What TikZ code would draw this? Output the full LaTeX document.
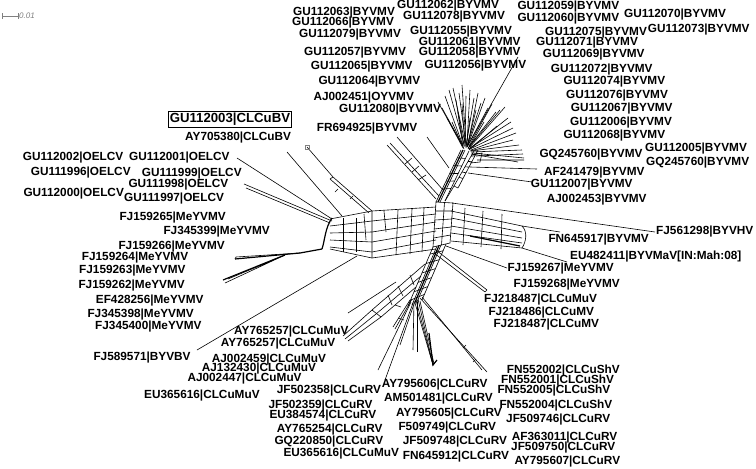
\documentclass[tikz,border=0pt]{standalone}
\usepackage{fontspec}
\setmainfont{Liberation Sans}
\usetikzlibrary{calc}
\begin{document}
\begin{tikzpicture}[x=1pt,y=-1pt,
  lab/.style={anchor=west,inner sep=0pt,font=\fontsize{11.8}{12}\selectfont\bfseries},
  net/.style={line width=0.6pt,black},
  thk/.style={line width=1.2pt,black}]
\useasboundingbox[fill=white] (0,0) rectangle (756,469);
% scale bar
\coordinate (sb1) at (2,16); \coordinate (sb2) at (18,16);
\draw[gray,line width=0.5pt] (sb1) -- (sb2) (2,13) -- (2,19) (18,13) -- (18,19);
\node[anchor=west,inner sep=0pt,text=gray,font=\fontsize{8}{9}\selectfont\itshape] (sbl) at (19,16) {0.01};
% ---------- labels ----------
\node[anchor=west,draw,line width=0.6pt,inner sep=1.5pt,font=\fontsize{13.2}{14}\selectfont\bfseries] (box) at (168,119.5) {GU112003|CLCuBV};
\node[lab] (t1) at (293,12.7) {GU112063|BYVMV};
\node[lab] (t2) at (397,6) {GU112062|BYVMV};
\node[lab] (t3) at (292,22.7) {GU112066|BYVMV};
\node[lab] (t4) at (403,16.7) {GU112078|BYVMV};
\node[lab] (t5) at (299,35) {GU112079|BYVMV};
\node[lab] (t6) at (410,31.7) {GU112055|BYVMV};
\node[lab] (t7) at (418.7,42.3) {GU112061|BYVMV};
\node[lab] (t8) at (304,52.3) {GU112057|BYVMV};
\node[lab] (t9) at (418.7,52.3) {GU112058|BYVMV};
\node[lab] (t10) at (310.7,66.7) {GU112065|BYVMV};
\node[lab] (t11) at (424.3,65.7) {GU112056|BYVMV};
\node[lab] (t12) at (318.3,81.7) {GU112064|BYVMV};
\node[lab] (t13) at (313.3,97.7) {AJ002451|OYVMV};
\node[lab] (t14) at (339,109.3) {GU112080|BYVMV};
\node[lab] (t15) at (316.7,128.3) {FR694925|BYVMV};
\node[lab] (r1) at (517.3,6.5) {GU112059|BYVMV};
\node[lab] (r2) at (517.3,18.3) {GU112060|BYVMV};
\node[lab] (r3) at (624,15) {GU112070|BYVMV};
\node[lab] (r4) at (647.7,29.3) {GU112073|BYVMV};
\node[lab] (r5) at (545,32.3) {GU112075|BYVMV};
\node[lab] (r6) at (536,42.7) {GU112071|BYVMV};
\node[lab] (r7) at (542.7,54.3) {GU112069|BYVMV};
\node[lab] (r8) at (550.7,69.3) {GU112072|BYVMV};
\node[lab] (r9) at (563.3,81.7) {GU112074|BYVMV};
\node[lab] (r10) at (566,96) {GU112076|BYVMV};
\node[lab] (r11) at (570.7,108.3) {GU112067|BYVMV};
\node[lab] (r12) at (570,122.7) {GU112006|BYVMV};
\node[lab] (r13) at (563.3,136) {GU112068|BYVMV};
\node[lab] (r14) at (645,149) {GU112005|BYVMV};
\node[lab] (r15) at (539.3,155) {GQ245760|BYVMV};
\node[lab] (r16) at (646,162.3) {GQ245760|BYVMV};
\node[lab] (r17) at (544,172.7) {AF241479|BYVMV};
\node[lab] (r18) at (530.7,185) {GU112007|BYVMV};
\node[lab] (r19) at (546.7,199.3) {AJ002453|BYVMV};
\node[lab] (r20) at (656,231.7) {FJ561298|BYVHV};
\node[lab] (r21) at (548.3,240) {FN645917|BYVMV};
\node[lab] (r22) at (570,256.7) {EU482411|BYVMaV[IN:Mah:08]};
\node[lab] (r23) at (507.3,269) {FJ159267|MeYVMV};
\node[lab] (r24) at (513.3,285) {FJ159268|MeYVMV};
\node[lab] (r25) at (484,299.3) {FJ218487|CLCuMuV};
\node[lab] (r26) at (488.3,312.7) {FJ218486|CLCuMV};
\node[lab] (r27) at (493.3,325) {FJ218487|CLCuMV};
\node[lab] (l1) at (185,138) {AY705380|CLCuBV};
\node[lab] (l2) at (22.7,157.3) {GU112002|OELCV};
\node[lab] (l3) at (129,157.3) {GU112001|OELCV};
\node[lab] (l4) at (30.7,172.3) {GU111996|OELCV};
\node[lab] (l5) at (141.7,173.7) {GU111999|OELCV};
\node[lab] (l6) at (128.3,185) {GU111998|OELCV};
\node[lab] (l7) at (23.3,193.3) {GU112000|OELCV};
\node[lab] (l8) at (124,198.3) {GU111997|OELCV};
\node[lab] (l9) at (119.3,217.7) {FJ159265|MeYVMV};
\node[lab] (l10) at (163.3,231.7) {FJ345399|MeYVMV};
\node[lab] (l11) at (118.3,246.7) {FJ159266|MeYVMV};
\node[lab] (l12) at (81.7,257.3) {FJ159264|MeYVMV};
\node[lab] (l13) at (79,270.7) {FJ159263|MeYVMV};
\node[lab] (l14) at (78.3,285.7) {FJ159262|MeYVMV};
\node[lab] (l15) at (95.7,300.7) {EF428256|MeYVMV};
\node[lab] (l16) at (87.3,315) {FJ345398|MeYVMV};
\node[lab] (l17) at (95,326.7) {FJ345400|MeYVMV};
\node[lab] (l18) at (93.3,357.3) {FJ589571|BYVBV};
\node[lab] (l19) at (144,396) {EU365616|CLCuMuV};
\node[lab] (b1) at (234,331.7) {AY765257|CLCuMuV};
\node[lab] (b2) at (220.7,344) {AY765257|CLCuMuV};
\node[lab] (b3) at (211.7,360) {AJ002459|CLCuMuV};
\node[lab] (b4) at (201.7,369) {AJ132430|CLCuMuV};
\node[lab] (b5) at (187.3,379) {AJ002447|CLCuMuV};
\node[lab] (b6) at (276.7,390.7) {JF502358|CLCuRV};
\node[lab] (b7) at (268.3,406) {JF502359|CLCuRV};
\node[lab] (b8) at (269.3,415.7) {EU384574|CLCuRV};
\node[lab] (b9) at (276.7,429.3) {AY765254|CLCuRV};
\node[lab] (b10) at (274.3,441.7) {GQ220850|CLCuRV};
\node[lab] (b11) at (283.3,453.3) {EU365616|CLCuMuV};
\node[lab] (b12) at (381.7,384.3) {AY795606|CLCuRV};
\node[lab] (b13) at (384,398.3) {AM501481|CLCuRV};
\node[lab] (b14) at (396,414) {AY795605|CLCuRV};
\node[lab] (b15) at (398.3,427.7) {F509749|CLCuRV};
\node[lab] (b16) at (402.7,441.7) {JF509748|CLCuRV};
\node[lab] (b17) at (402.7,456.7) {FN645912|CLCuRV};
\node[lab] (b18) at (506.7,370.7) {FN552002|CLCuShV};
\node[lab] (b19) at (501,381) {FN552001|CLCuShV};
\node[lab] (b20) at (497.3,391) {FN552005|CLCuShV};
\node[lab] (b21) at (499.3,406) {FN552004|CLCuShV};
\node[lab] (b22) at (506,420) {JF509746|CLCuRV};
\node[lab] (b23) at (511.7,437.3) {AF363011|CLCuRV};
\node[lab] (b24) at (511,447.7) {JF509750|CLCuRV};
\node[lab] (b25) at (514.3,461.7) {AY795607|CLCuRV};
% ---------- network: spine ----------
\coordinate (ua1) at (461,150); \coordinate (ub1) at (436,202);
\coordinate (ua2) at (465,150); \coordinate (ub2) at (440,202);
\coordinate (ua3) at (469,151); \coordinate (ub3) at (445,201);
\coordinate (ua4) at (474,151); \coordinate (ub4) at (454,186);
\coordinate (ua5) at (478,150); \coordinate (ub5) at (458,188);
\draw[net] (ua1)--(ub1) (ua2)--(ub2) (ua3)--(ub3) (ua4)--(ub4) (ua5)--(ub5) (ub4)--(ub5);
\draw[thk] ($(ua1)!0.5!(ua2)$) -- ($(ub1)!0.5!(ub2)$);
\foreach \t in {0.15,0.3,0.45,0.6,0.75}{
  \draw[net] ($(ua1)!\t!(ub1)$) -- ($(ua3)!\t!(ub3)$);
  \draw[net] ($(ua4)!\t!(ub4)$) -- ($(ua5)!\t!(ub5)$);}
\draw[net] (ub3) -- (ub4);
% central box
\coordinate (q1) at (436,202); \coordinate (q2) at (453,203);
\coordinate (q3) at (450,243); \coordinate (q4) at (433,247);
\draw[net] (q1)--(q2)--(q3)--(q4)--cycle;
\foreach \t in {0.2,0.4,0.6,0.8}{\draw[net] ($(q1)!\t!(q4)$) -- ($(q2)!\t!(q3)$);}
\draw[net] ($(q1)!0.5!(q2)$) -- ($(q4)!0.5!(q3)$);
% lower spine
\coordinate (la1) at (433,247); \coordinate (lb1) at (408,306);
\coordinate (la2) at (437,246); \coordinate (lb2) at (412,305);
\coordinate (la3) at (441,245); \coordinate (lb3) at (417,302);
\coordinate (la4) at (446,244); \coordinate (lb4) at (422,300);
\draw[net] (la1)--(lb1) (la2)--(lb2) (la3)--(lb3) (la4)--(lb4);
\draw[thk] ($(la2)!0.5!(la3)$) -- ($(lb2)!0.5!(lb3)$);
\foreach \t in {0.12,0.28,0.44,0.6,0.76,0.9}{\draw[net] ($(la1)!\t!(lb1)$) -- ($(la4)!\t!(lb4)$);}
% ---------- top star ----------
\foreach \ex/\ey/\sx/\sy in {438/102/462/145,442/108/463/146,445/96/462/143,449/90/464/144,453/88/465/143,456/100/463/147,459/93/466/145,462/85/466/143,466/96/465/147,470/90/467/144,474/98/466/146,478/93/468/144,481/103/467/146,485/98/468/145,488/108/467/147,492/104/469/146,496/112/468/148,500/110/469/147,505/107/470/147,508/118/469/149,511/122/470/148,513/128/470/149,516/133/471/150,513/140/470/151,519/145/471/151,522/150/471/152,524/158/472/153,518/162/471/154,447/118/463/148,452/122/464/149,458/112/464/146,470/118/466/148,484/122/468/149,497/126/469/150,476/110/467/147,462/104/465/146}{
  \coordinate (e) at (\ex,\ey); \coordinate (s) at (\sx,\sy);
  \draw[net] (s) -- (e);}
\coordinate (g56) at (518,57); \coordinate (g56s) at (467,147);
\draw[net] (g56s) -- (g56);
\coordinate (c1) at (476,156); \coordinate (c2) at (477,160); \coordinate (c3) at (470,167); \coordinate (c4) at (468,173);
\coordinate (e1) at (523,154); \coordinate (e2) at (524,160); \coordinate (e3) at (537,169); \coordinate (e4) at (532,182);
\draw[net] (c1)--(e1) (c2)--(e2) (c3)--(e3) (c4)--(e4);
\draw[net] (472,155) -- (482,153) -- (480,162) -- (470,163);
% ---------- FR694925 branches ----------
\coordinate (f1) at (387,145); \coordinate (f1e) at (436,199);
\coordinate (f2) at (390,143); \coordinate (f2e) at (439,196);
\coordinate (f3) at (397,137); \coordinate (f3e) at (443,190);
\coordinate (f4) at (427,137); \coordinate (f4e) at (449,168);
\draw[net] (f1)--(f1e) (f2)--(f2e) (f3)--(f3e) (f4)--(f4e);
\draw[net] (405,164) -- (412,158) (412,172)--(419,166) (418,180)--(426,175);
% ---------- left arm band ----------
\foreach \j/\ya/\yb/\yc in {0/219/211/207,1/226/221/214,2/233/232/222,3/240/242/231,4/247/252/240,5/249/258/249}{
  \coordinate (L\j a) at (330,\ya); \coordinate (L\j b) at (372,\yb); \coordinate (L\j c) at (436,\yc);
  \draw[net] (L\j a) -- (L\j b) -- (L\j c);}
\draw[thk] (332,218) .. controls (325,228) and (325,240) .. (322,249);
\foreach \x in {343,356}{\draw[net] (\x,218) -- (\x,252);}
\draw[net] (372,211) -- (372,258) (398,210) -- (396,255) (412,209) -- (410,254) (424,208) -- (422,252);
\draw[net] (384,211) -- (386,232) (364,214) -- (366,240);
% upper-left rays
\coordinate (u1) at (332,219); \coordinate (u1e) at (237,158);
\coordinate (u2) at (332,221); \coordinate (u2e) at (244,184);
\coordinate (u3) at (330,223); \coordinate (u3e) at (246,188);
\coordinate (u4) at (342,216); \coordinate (u4e) at (287,152);
\coordinate (u5) at (372,211); \coordinate (u5m) at (333,177);
\coordinate (u6) at (369,213); \coordinate (u6m) at (330,179);
\coordinate (sq) at (307,147);
\draw[net] (u1)--(u1e) (u2)--(u2e) (u3)--(u3e) (u4)--(u4e);
\draw[net] (u5)--(u5m)--(sq) (u6)--(u6m) (u5m)--(u6m);
\draw[net] (335,192) -- (338,189) (350,199)--(353,196);
\draw[net,gray] (305,145) rectangle (309,149);
% lower-left rays
\coordinate (w0) at (322,249); \coordinate (w1) at (300,253);
\coordinate (w1e) at (235,259); \coordinate (w2e) at (236,257);
\coordinate (w3) at (285,255); \coordinate (w3e) at (223,280);
\draw[thk] (w0) -- (w1) -- (w1e);
\draw[net] (w1) -- (w2e) (w1e) -- (w2e);
\draw[thk] (w3) -- (w3e);
\draw[net] (w3) -- (225,283) (w3) -- (228,279);
\coordinate (bv) at (357,256); \coordinate (bve) at (197,350);
\draw[net] (bv) -- (bve);
% ---------- lower-left arm ----------
\coordinate (k1) at (425,264); \coordinate (k1m) at (372,310); \coordinate (k1e) at (343,336);
\coordinate (k2) at (421,276); \coordinate (k2m) at (376,314); \coordinate (k2e) at (345,339);
\coordinate (k3) at (416,287); \coordinate (k3m) at (381,317); \coordinate (k3e) at (348,341);
\draw[net] (k1)--(k1m)--(k1e) (k2)--(k2m)--(k2e) (k3)--(k3m)--(k3e);
\draw[net] (410,275)--(414,285) (398,286)--(403,296) (388,295)--(392,305) (k1m)--(k3m);
\coordinate (v1) at (396,282); \coordinate (v1e) at (348,313);
\draw[net] (v1) -- (v1e);
% ---------- lower bundle ----------
\foreach \sx/\sy/\ex/\ey in {410/300/393/327,412/299/395/329,411/302/378/370,414/301/413/350,413/303/385/380,416/300/433/365,418/299/433/365,415/303/433/365,420/301/434/364,414/304/400/345,420/298/487/372,422/297/482/370,417/302/417/352}{
  \coordinate (p) at (\sx,\sy); \coordinate (q) at (\ex,\ey);
  \draw[net] (p) -- (q);}
\draw[net] (395,305)--(401,307) (398,318)--(404,320) (466,345)--(463,348) (476,359)--(473,362);
\draw[thk] (429,333) -- (433,365) -- (437,360);
% ---------- right arm ----------
\coordinate (y0) at (452,203); \coordinate (y0e) at (655,232);
\draw[net] (y0) -- (y0e);
\foreach \j/\ya/\yb in {1/211/226,2/218/232,3/226/238,4/233/243,5/241/248}{
  \coordinate (Y\j a) at (451,\ya); \coordinate (Y\j b) at (522,\yb);
  \draw[net] (Y\j a) -- (Y\j b);}
\draw[net] (Y1b) .. controls (528,232) and (526,242) .. (Y5b);
\draw[net] (465,208) -- (463,245) (483,211) -- (481,247) (502,214) -- (501,249);
\draw[thk] (470,236) -- (520,246);
\coordinate (z1e) at (560,232); \coordinate (z2e) at (567,262);
\draw[net] (Y1b) -- (z1e) (Y5b) -- (z2e);
\coordinate (x1) at (446,246); \coordinate (x1e) at (507,268);
\coordinate (x2) at (436,250); \coordinate (x2e) at (487,290);
\coordinate (x3) at (434,253); \coordinate (x3e) at (485,292);
\draw[net] (x1)--(x1e) (x2)--(x2e) (x3)--(x3e) (x2e)--(x3e);
\end{tikzpicture}
\end{document}
